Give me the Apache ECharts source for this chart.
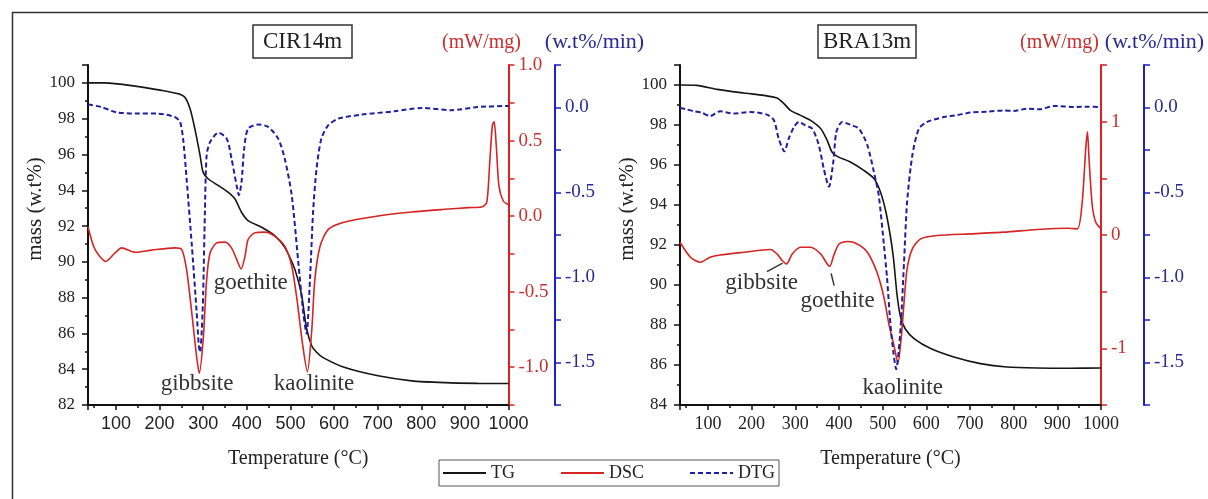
<!DOCTYPE html>
<html>
<head>
<meta charset="utf-8">
<script src="https://cdn.jsdelivr.net/npm/echarts@6/dist/echarts.min.js"></script>
<style>
  html, body { margin: 0; padding: 0; background: #fff; }
  #chart { width: 1208px; height: 499px; }
</style>
</head>
<body>
<div id="chart"></div>
<script>
// CIR14m — [temperature °C, value]
const cirTG = [[36,100.0],[75,100.0],[144,99.82],[205,99.58],[243,99.39],[258,99.2],[270,98.55],[281,97.43],[293,95.94],[300,95.0],[312,94.63],[335,94.26],[357,93.89],[373,93.51],[388,92.77],[403,92.3],[434,91.93],[464,91.46],[487,90.81],[506,89.85],[515,89.2],[526,88.1],[537,86.3],[549,85.3],[560,84.95],[575,84.65],[625,84.09],[701,83.63],[778,83.35],[854,83.25],[930,83.21],[1000,83.2]];
const cirDSC = [[36,-0.07],[52,-0.22],[77,-0.30],[98,-0.243],[113,-0.21],[144,-0.239],[182,-0.225],[235,-0.21],[251,-0.221],[262,-0.354],[274,-0.642],[285,-0.93],[291,-1.04],[300,-0.82],[308,-0.42],[316,-0.243],[331,-0.177],[350,-0.172],[365,-0.21],[377,-0.288],[387,-0.35],[396,-0.265],[403,-0.155],[419,-0.11],[442,-0.106],[464,-0.132],[487,-0.199],[503,-0.33],[515,-0.55],[528,-0.85],[539,-1.03],[549,-0.753],[556,-0.42],[568,-0.199],[587,-0.088],[625,-0.039],[701,0.001],[778,0.027],[854,0.045],[907,0.056],[938,0.06],[950,0.089],[957,0.355],[963,0.60],[967,0.625],[972,0.466],[978,0.20],[988,0.10],[1000,0.075]];
const cirDTG = [[36,0.017],[67,0.003],[90,-0.02],[105,-0.03],[144,-0.036],[197,-0.036],[235,-0.056],[247,-0.085],[254,-0.183],[262,-0.418],[274,-0.81],[285,-1.2],[290,-1.40],[293,-1.44],[297,-1.3],[300,-1.1],[304,-0.614],[308,-0.28],[316,-0.202],[335,-0.148],[354,-0.183],[365,-0.30],[377,-0.463],[382,-0.516],[388,-0.437],[394,-0.242],[403,-0.124],[426,-0.10],[449,-0.114],[472,-0.183],[487,-0.30],[503,-0.516],[518,-0.907],[530,-1.22],[537,-1.33],[545,-1.006],[552,-0.614],[560,-0.359],[571,-0.183],[587,-0.104],[610,-0.065],[663,-0.042],[739,-0.022],[801,-0.003],[869,-0.016],[930,0.003],[1000,0.009]];

// BRA13m
const braTG = [[36,100.0],[75,99.98],[121,99.78],[182,99.6],[228,99.48],[258,99.35],[274,99.07],[289,98.73],[312,98.48],[335,98.23],[358,97.82],[373,97.23],[384,96.65],[396,96.43],[426,96.15],[457,95.73],[480,95.32],[495,94.65],[507,93.7],[518,92.4],[525,91.3],[533,89.5],[541,88.4],[552,87.8],[572,87.32],[610,86.82],[663,86.4],[724,86.07],[785,85.9],[854,85.85],[931,85.84],[1000,85.85]];
const braDSC = [[36,-0.064],[60,-0.196],[83,-0.24],[105,-0.196],[128,-0.176],[182,-0.152],[243,-0.128],[258,-0.167],[270,-0.225],[280,-0.255],[293,-0.167],[312,-0.108],[335,-0.108],[358,-0.167],[373,-0.255],[379,-0.276],[388,-0.181],[400,-0.079],[419,-0.058],[442,-0.079],[465,-0.152],[487,-0.329],[503,-0.55],[515,-0.8],[526,-0.976],[535,-1.13],[543,-0.888],[549,-0.594],[556,-0.30],[568,-0.123],[587,-0.034],[625,-0.005],[701,0.01],[778,0.025],[854,0.049],[923,0.06],[946,0.054],[957,0.29],[965,0.76],[969,0.91],[973,0.643],[980,0.26],[988,0.113],[1000,0.054]];
const braDTG = [[36,-0.003],[50,-0.01],[67,-0.022],[85,-0.03],[105,-0.05],[128,-0.022],[159,-0.036],[197,-0.026],[235,-0.042],[251,-0.075],[262,-0.183],[275,-0.258],[285,-0.183],[297,-0.115],[308,-0.085],[323,-0.105],[339,-0.125],[354,-0.222],[365,-0.358],[377,-0.466],[387,-0.32],[394,-0.144],[407,-0.085],[426,-0.101],[446,-0.125],[465,-0.222],[480,-0.379],[491,-0.516],[503,-0.81],[510,-1.0],[518,-1.28],[525,-1.45],[531,-1.54],[541,-1.30],[549,-0.909],[556,-0.556],[568,-0.281],[583,-0.125],[602,-0.085],[640,-0.056],[670,-0.045],[701,-0.03],[740,-0.025],[778,-0.017],[800,-0.02],[831,-0.007],[860,-0.01],[892,0.009],[938,0.003],[970,0.005],[1000,0.003]];

// annotation labels: [temperature, mass, text]
const cirLabels = [[286, 83.2, 'gibbsite'], [409, 88.8, 'goethite'], [554, 83.2, 'kaolinite']];
const braLabels = [[223, 90.08, 'gibbsite'], [397, 89.2, 'goethite'], [546, 84.83, 'kaolinite']];
// leader lines on BRA13m: [[T1, m1], [T2, m2]]
const braLeaders = [[[235, 90.67], [271, 91.09]], [[382, 90.58], [389, 89.97]]];

const serif = 'Liberation Serif';
const cBlack = '#151515', cRed = '#d42424', cBlue = '#1e1e9e';
const cRedAxis = '#e02020', cBlueAxis = '#1f1fc8';

const chart = echarts.init(document.getElementById('chart'));

function xAxis(grid, labelFont) {
  return {
    type: 'value', gridIndex: grid, min: 36, max: 1000,
    minInterval: 100, maxInterval: 100,
    name: 'Temperature (°C)', nameLocation: 'middle', nameGap: 44,
    nameTextStyle: { fontFamily: serif, fontSize: 20, color: '#222' },
    axisLine: { show: true, onZero: false, lineStyle: { color: '#111', width: 2 } },
    axisTick: { show: true, length: 5, lineStyle: { color: '#111', width: 1.5 } },
    minorTick: { show: true, splitNumber: 2, length: 3, lineStyle: { color: '#111', width: 1.5 } },
    axisLabel: { showMinLabel: false, margin: 10, fontFamily: labelFont, fontSize: 18, color: '#222',
      formatter: v => String(v) },
    splitLine: { show: false }
  };
}

function massAxis(grid, min, gap) {
  return {
    type: 'value', gridIndex: grid, position: 'left', min: min, max: 101, interval: 2,
    name: 'mass (w.t%)', nameLocation: 'middle', nameGap: gap,
    nameTextStyle: { fontFamily: serif, fontSize: 21, color: '#222', padding: [0, 0, 0, 52] },
    axisLine: { show: true, onZero: false, lineStyle: { color: '#111', width: 2 } },
    axisTick: { show: true, length: 6, lineStyle: { color: '#111', width: 1.5 } },
    minorTick: { show: true, splitNumber: 2, length: 3, lineStyle: { color: '#111', width: 1.5 } },
    axisLabel: { showMaxLabel: false, margin: 13, fontFamily: serif, fontSize: 17, color: '#222' },
    splitLine: { show: false }
  };
}

function sideAxis(grid, min, max, step, offset, color, textColor, name, nameSize, pad, fmt) {
  return {
    type: 'value', gridIndex: grid, position: 'right', offset: offset,
    min: min, max: max, interval: step,
    name: name, nameLocation: 'end', nameGap: 12,
    nameTextStyle: { fontFamily: serif, fontSize: nameSize, color: textColor, align: 'center', padding: pad },
    axisLine: { show: true, onZero: false, lineStyle: { color: color, width: 2 } },
    axisTick: { show: true, length: 6, lineStyle: { color: color, width: 1.5 } },
    axisLabel: { margin: 10, fontFamily: serif, fontSize: 19, color: textColor, formatter: fmt },
    splitLine: { show: false }
  };
}

const halfFmt = v => (Math.abs(v * 2 - Math.round(v * 2)) < 1e-6 ? v.toFixed(1) : '');
const intFmt = v => (Math.abs(v - Math.round(v)) < 1e-6 ? String(Math.round(v)) : '');

function line(name, data, x, y, color, dashed, extra) {
  return Object.assign({
    name: name, type: 'line', data: data, xAxisIndex: x, yAxisIndex: y,
    symbol: 'none', smooth: 0.25,
    lineStyle: { color: color, width: dashed ? 2 : 1.6, type: dashed ? [5, 3] : 'solid' },
    itemStyle: { color: color }
  }, extra || {});
}

function labelPoints(list) {
  return {
    symbol: 'rect', symbolSize: 1, itemStyle: { color: 'transparent' },
    label: { show: true, position: 'inside', fontFamily: serif, fontSize: 23, color: '#333', formatter: p => p.name },
    data: list.map(d => ({ name: d[2], coord: [d[0], d[1]] }))
  };
}

const option = {
  backgroundColor: '#fff',
  animation: false,
  title: [
    { text: 'CIR14m', left: 253, top: 25, padding: [5, 10], borderColor: '#333', borderWidth: 1.5,
      textStyle: { fontFamily: serif, fontSize: 23, fontWeight: 'normal', color: '#222' } },
    { text: 'BRA13m', left: 818, top: 25, padding: [5, 5], borderColor: '#333', borderWidth: 1.5,
      textStyle: { fontFamily: serif, fontSize: 23, fontWeight: 'normal', color: '#222' } }
  ],
  legend: {
    data: ['TG', 'DSC', 'DTG'], left: 439, top: 460,
    padding: [4, 4, 4, 3], itemGap: 45, itemWidth: 43, itemHeight: 14,
    borderColor: '#555', borderWidth: 1,
    itemStyle: { opacity: 0 },
    textStyle: { fontFamily: serif, fontSize: 18, color: '#222' }
  },
  grid: [
    { left: 88, top: 65, width: 420.5, height: 340 },
    { left: 680, top: 65, width: 421, height: 340 }
  ],
  xAxis: [xAxis(0, 'Liberation Sans'), xAxis(1, serif)],
  yAxis: [
    massAxis(0, 82, 42),
    sideAxis(0, -1.25, 1.0, 0.25, 0, cRedAxis, '#c83030', '(mW/mg)', 20, [0, 54, 0, 0], halfFmt),
    sideAxis(0, -1.75, 0.25, 0.25, 46.5, cBlueAxis, '#2a2a96', '(w.t%/min)', 22, [0, 0, 0, 79], halfFmt),
    massAxis(1, 84, 38),
    sideAxis(1, -1.5, 1.5, 0.5, 0, cRedAxis, '#c83030', '(mW/mg)', 20, [0, 83, 0, 0], intFmt),
    sideAxis(1, -1.75, 0.25, 0.25, 43, cBlueAxis, '#2a2a96', '(w.t%/min)', 22, [0, 0, 0, 21], halfFmt)
  ],
  series: [
    line('TG', cirTG, 0, 0, cBlack, false, { markPoint: labelPoints(cirLabels) }),
    line('DSC', cirDSC, 0, 1, cRed, false),
    line('DTG', cirDTG, 0, 2, cBlue, true),
    line('TG', braTG, 1, 3, cBlack, false, {
      markPoint: labelPoints(braLabels),
      markLine: {
        symbol: 'none', silent: true, label: { show: false },
        lineStyle: { color: '#333', width: 1.5, type: 'solid' },
        data: braLeaders.map(l => [{ coord: l[0] }, { coord: l[1] }])
      }
    }),
    line('DSC', braDSC, 1, 4, cRed, false),
    line('DTG', braDTG, 1, 5, cBlue, true)
  ],
  graphic: [
    { type: 'rect', left: 10, top: 10, silent: true, z: -1,
      shape: { width: 1215, height: 505 },
      style: { fill: 'none', stroke: '#333', lineWidth: 1.5 } }
  ]
};

chart.setOption(option);
</script>
</body>
</html>
